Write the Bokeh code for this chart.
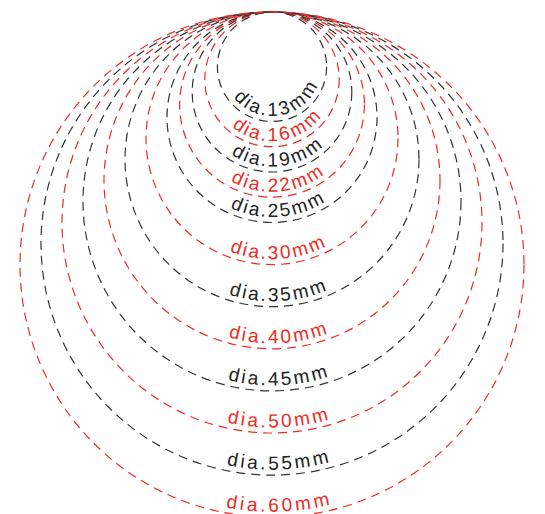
import numpy as np
from bokeh.plotting import figure
from bokeh.models import Range1d, ColumnDataSource
from bokeh.embed import file_html
from bokeh.resources import INLINE
from bokeh.core.properties import value

# ---- data ----
diameters = [13, 16, 19, 22, 25, 30, 35, 40, 45, 50, 55, 60]   # mm
labels = ["dia.13mm", "dia.16mm", "dia.19mm", "dia.22mm", "dia.25mm", "dia.30mm",
          "dia.35mm", "dia.40mm", "dia.45mm", "dia.50mm", "dia.55mm", "dia.60mm"]

# ---- styles ----
LINE_COLORS = ["#333333", "#ee2b24"]
TEXT_COLORS = ["#222222", "#ee2b24"]
FONT = "Liberation Sans"
FS = 19

W, H = 545, 514
KX, KY = 8.4, 8.42          # px per mm
CX_PX, TOP_PX = 271.5, 11.5  # circle centre x / common top, in frame px

p = figure(width=W, height=H,
           x_range=Range1d(-CX_PX / KX, (W - CX_PX) / KX),
           y_range=Range1d(TOP_PX / KY - H / KY, TOP_PX / KY),
           output_backend="svg", toolbar_location=None, min_border=0,
           x_axis_location=None, y_axis_location=None)
p.grid.visible = False
p.outline_line_color = None
p.background_fill_color = "white"
p.border_fill_color = "white"

d_arr = np.array(diameters, dtype=float)
circ = ColumnDataSource(dict(
    x=np.zeros_like(d_arr), y=-d_arr / 2, w=d_arr, h=d_arr,
    color=[LINE_COLORS[i % 2] for i in range(len(diameters))]))
p.ellipse(x="x", y="y", width="w", height="h", source=circ,
          fill_color=None, line_color="color", line_width=1.2, line_dash="9 6")

ADV = {'d': 0.556, 'i': 0.222, 'a': 0.556, '.': 0.278, 'm': 0.833}
xs, ys, txt, ang, cols = [], [], [], [], []
for i, (d, lab) in enumerate(zip(diameters, labels)):
    track = 1.0 + (d - 13) * (1.8 / 47.0)
    widths = [ADV.get(c, 0.556) * FS for c in lab]
    L = sum(widths) + track * (len(lab) - 1)
    s_c = 6.0
    inset = 12.0
    Rx, Ry = d / 2 * KX, d / 2 * KY
    rb = Ry - inset
    pos = s_c - L / 2
    for c, w in zip(lab, widths):
        sc = pos + w / 2
        phi = sc / rb
        xs.append((Rx - inset) * np.sin(phi) / KX)
        ys.append(-d / 2 - rb * np.cos(phi) / KY)
        txt.append(c)
        ang.append(phi)
        cols.append(TEXT_COLORS[i % 2])
        pos += w + track

tsrc = ColumnDataSource(dict(x=xs, y=ys, text=txt, angle=ang, color=cols))
p.text(x="x", y="y", text="text", angle="angle", source=tsrc,
       text_align="center", text_baseline="alphabetic",
       text_font=value(FONT), text_font_size=f"{FS}px", text_color="color")

html = file_html(p, INLINE)
html = html.replace("<head>", "<head><style>html,body{overflow:hidden}</style>", 1)
open("out.html", "w").write(html)
